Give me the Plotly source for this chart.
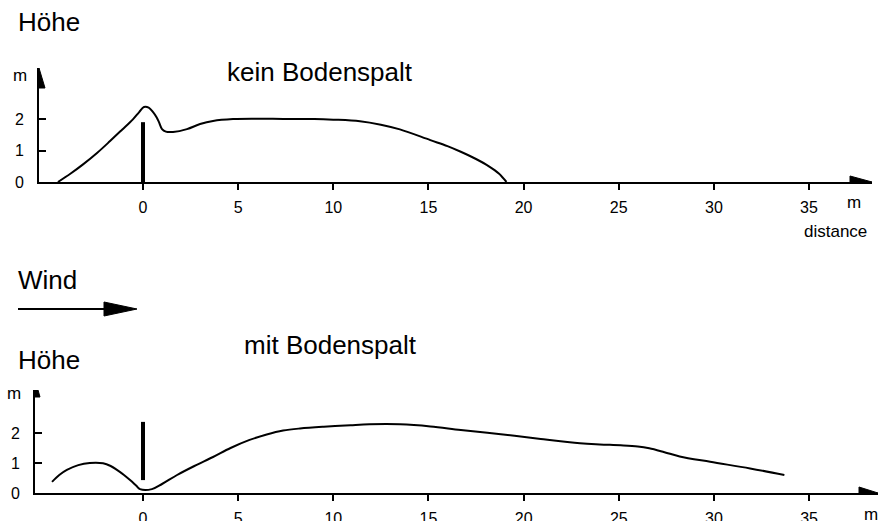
import plotly.graph_objects as go

# ---------------- data ----------------
# Top panel: "kein Bodenspalt" (no ground gap) - snow drift height profile
top_x = [-4.47, -3.8, -3.15, -2.4, -1.73, -1.1, -0.53, -0.2, 0.05, 0.3, 0.53, 0.72, 0.84,
         1.0, 1.2, 1.58, 2.31, 3.0, 3.68, 4.73, 6.0, 7.5, 9.0, 10.0, 11.4, 12.5, 13.5,
         15.1, 16.0, 16.7, 17.5, 18.2, 18.7, 19.1]
top_h = [0.0, 0.27, 0.56, 0.93, 1.3, 1.66, 1.99, 2.22, 2.38, 2.36, 2.22, 2.05, 1.9,
         1.68, 1.6, 1.59, 1.68, 1.84, 1.94, 2.0, 2.01, 2.0, 2.0, 1.98, 1.93, 1.82, 1.67,
         1.33, 1.14, 0.96, 0.73, 0.49, 0.27, 0.0]
top_fence_x = [0, 0]
top_fence_h = [0.0, 1.9]

# Bottom panel: "mit Bodenspalt" (with ground gap)
bot_x = [-4.78, -4.4, -4.0, -3.4, -2.8, -2.1, -1.7, -1.37, -1.0, -0.68, -0.35, -0.16,
         0.47, 1.0, 1.79, 2.7, 3.68, 4.6, 5.6, 6.5, 7.36, 8.25, 9.5, 10.9, 11.9, 13.5,
         15.1, 16.7, 18.8, 20.9, 22.96, 24.0, 25.1, 26.0, 26.6, 27.4, 28.2, 29.8,
         31.9, 33.7]
bot_h = [0.37, 0.6, 0.77, 0.93, 1.0, 0.99, 0.9, 0.77, 0.6, 0.43, 0.24, 0.13,
         0.13, 0.3, 0.6, 0.9, 1.2, 1.5, 1.77, 1.95, 2.08, 2.15, 2.21, 2.26, 2.29, 2.29,
         2.22, 2.1, 1.96, 1.8, 1.66, 1.62, 1.59, 1.55, 1.49, 1.36, 1.22, 1.04,
         0.82, 0.6]
bot_fence_x = [0, 0]
bot_fence_h = [0.43, 2.37]

x_ticks = [0, 5, 10, 15, 20, 25, 30, 35]
y_ticks = [0, 1, 2]

FONT = "Liberation Sans, Arial, Helvetica, sans-serif"
W, H = 878, 521

def px(v):
    return v / W

def py(v):
    return 1 - v / H

fig = go.Figure()

line = dict(color="black", width=2, shape="spline", smoothing=1.0)
fig.add_trace(go.Scatter(x=top_x, y=top_h, mode="lines", line=line,
                         xaxis="x", yaxis="y", hoverinfo="skip"))
fig.add_trace(go.Scatter(x=top_fence_x, y=top_fence_h, mode="lines",
                         line=dict(color="black", width=4),
                         xaxis="x", yaxis="y", hoverinfo="skip"))
fig.add_trace(go.Scatter(x=bot_x, y=bot_h, mode="lines", line=line,
                         xaxis="x2", yaxis="y2", hoverinfo="skip"))
fig.add_trace(go.Scatter(x=bot_fence_x, y=bot_fence_h, mode="lines",
                         line=dict(color="black", width=4),
                         xaxis="x2", yaxis="y2", hoverinfo="skip"))

# axis ranges (chosen so pixel positions match the original drawing)
top_xr = [-5.465, 38.31]
top_yr = [0, 3.62]
bot_xr = [-5.675, 38.62]
bot_yr = [0, 3.433]

xcommon = dict(showgrid=False, zeroline=False, showline=True, linecolor="black",
               linewidth=2, ticks="outside", ticklen=6, tickwidth=2, tickcolor="black",
               tickvals=x_ticks, ticktext=[str(t) for t in x_ticks],
               tickfont=dict(family=FONT, size=16, color="black"),
               ticklabelstandoff=4, fixedrange=True, automargin=False)
ycommon = dict(showgrid=False, zeroline=False, showline=True, linecolor="black",
               linewidth=2, ticks="inside", ticklen=7, tickwidth=2, tickcolor="black",
               tickvals=y_ticks, ticktext=[str(t) for t in y_ticks],
               tickfont=dict(family=FONT, size=16, color="black"),
               ticklabelstandoff=10, fixedrange=True, automargin=False)

fig.update_layout(
    width=W, height=H, autosize=False,
    margin=dict(l=0, r=0, t=0, b=0, pad=0, autoexpand=False),
    paper_bgcolor="white", plot_bgcolor="rgba(0,0,0,0)",
    showlegend=False,
    xaxis=dict(domain=[px(39), px(872)], range=top_xr, anchor="y", **xcommon),
    yaxis=dict(domain=[py(182), py(68)], range=top_yr, anchor="x", **ycommon),
    xaxis2=dict(domain=[px(35), 1.0], range=bot_xr, anchor="y2", **xcommon),
    yaxis2=dict(domain=[py(493), py(390)], range=bot_yr, anchor="x2", **ycommon),
)

shapes = [
    # arrowheads on axes (pixel-sized, anchored at axis ends)
    dict(type="path", xref="x", yref="y", xsizemode="pixel", ysizemode="pixel",
         xanchor=top_xr[1], yanchor=0, path="M0,0 L-22,6 L-22,-6 Z",
         fillcolor="black", line=dict(color="black", width=1)),
    dict(type="path", xref="x", yref="y", xsizemode="pixel", ysizemode="pixel",
         xanchor=top_xr[0], yanchor=top_yr[1], path="M0,0 L-6,-20 L6,-20 Z",
         fillcolor="black", line=dict(color="black", width=1)),
    dict(type="path", xref="x2", yref="y2", xsizemode="pixel", ysizemode="pixel",
         xanchor=bot_xr[1], yanchor=0, path="M0,0 L-19,6 L-19,-6 Z",
         fillcolor="black", line=dict(color="black", width=1)),
    dict(type="path", xref="x2", yref="y2", xsizemode="pixel", ysizemode="pixel",
         xanchor=bot_xr[0], yanchor=bot_yr[1], path="M-3,0 L3,0 L5,-7 L-5,-7 Z",
         fillcolor="black", line=dict(color="black", width=1)),
    # wind arrow
    dict(type="line", xref="paper", yref="paper", x0=px(18), x1=px(110), y0=py(309), y1=py(309),
         line=dict(color="black", width=2)),
    dict(type="path", xref="paper", yref="paper",
         path=f"M{px(137)},{py(309)} L{px(104)},{py(302)} L{px(104)},{py(316)} Z",
         fillcolor="black", line=dict(color="black", width=1)),
]
fig.update_layout(shapes=shapes)

def ann(text, x, y, size, xanchor="center"):
    return dict(text=text, x=px(x), y=py(y), xref="paper", yref="paper",
                xanchor=xanchor, yanchor="middle", showarrow=False,
                font=dict(family=FONT, size=size, color="black"))

annotations = [
    ann("Höhe", 16, 22, 26, "left"),
    ann("kein Bodenspalt", 320, 72, 26),
    ann("m", 20, 75, 17),
    ann("m", 854, 203, 17),
    ann("distance", 835, 232, 17),
    ann("Wind", 16, 280, 26, "left"),
    ann("Höhe", 16, 360, 26, "left"),
    ann("mit Bodenspalt", 330, 345, 26),
    ann("m", 14, 393, 17),
    ann("m", 871, 514, 17),
]
fig.update_layout(annotations=annotations)

fig.write_html("out.html", config={"displayModeBar": False},
               post_script="document.body.style.margin='0';document.body.style.overflow='hidden';")
